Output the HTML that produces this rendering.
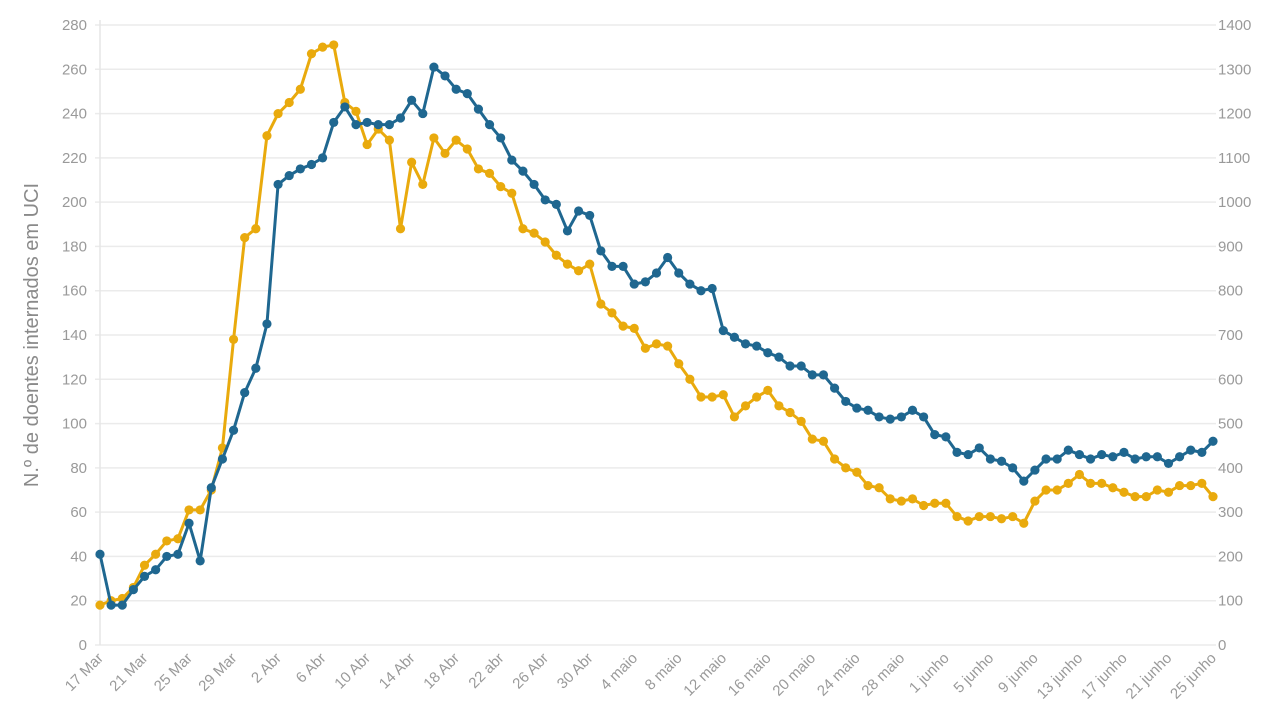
<!DOCTYPE html>
<html><head><meta charset="utf-8"><style>
body{margin:0;background:#fff;font-family:"Liberation Sans",sans-serif}
svg text{font-family:"Liberation Sans",sans-serif}
</style></head><body>
<svg id="chart" width="1280" height="720">
<g id="grid"></g><g id="axes"></g><g id="series"></g>
<text transform="translate(38,335) rotate(-90)" text-anchor="middle" font-size="20" fill="#8a8a8a">N.º de doentes internados em UCI</text>
</svg>
<script>
const startLabels=["17 Mar","21 Mar","25 Mar","29 Mar","2 Abr","6 Abr","10 Abr","14 Abr","18 Abr","22 abr","26 Abr","30 Abr","4 maio","8 maio","12 maio","16 maio","20 maio","24 maio","28 maio","1 junho","5 junho","9 junho","13 junho","17 junho","21 junho","25 junho"];
const leftTicks=[0,20,40,60,80,100,120,140,160,180,200,220,240,260,280];
const rightTicks=[0,100,200,300,400,500,600,700,800,900,1000,1100,1200,1300,1400];
const uci=[18,20,21,26,36,41,47,48,61,61,70,89,138,184,188,230,240,245,251,267,270,271,245,241,226,233,228,188,218,208,229,222,228,224,215,213,207,204,188,186,182,176,172,169,172,154,150,144,143,134,136,135,127,120,112,112,113,103,108,112,115,108,105,101,93,92,84,80,78,72,71,66,65,66,63,64,64,58,56,58,58,57,58,55,65,70,70,73,77,73,73,71,69,67,67,70,69,72,72,73,67];
const internados=[205,90,90,125,155,170,200,205,275,190,355,420,485,570,625,725,1040,1060,1075,1085,1100,1180,1215,1175,1180,1175,1175,1190,1230,1200,1305,1285,1255,1245,1210,1175,1145,1095,1070,1040,1005,995,935,980,970,890,855,855,815,820,840,875,840,815,800,805,710,695,680,675,660,650,630,630,610,610,580,550,535,530,515,510,515,530,515,475,470,435,430,445,420,415,400,370,395,420,420,440,430,420,430,425,435,420,425,425,410,425,440,435,460];
const L=100,R=1213,T=25,B=645;
const xs=i=>L+(R-L)*i/(uci.length-1);
const yl=v=>B-(B-T)*v/280;
const yr=v=>B-(B-T)*v/1400;
const NS="http://www.w3.org/2000/svg";
function mk(tag,attrs,parent){const e=document.createElementNS(NS,tag);for(const k in attrs)e.setAttribute(k,attrs[k]);parent.appendChild(e);return e;}
const grid=document.getElementById('grid'),axes=document.getElementById('axes'),ser=document.getElementById('series');
leftTicks.forEach((v,i)=>{
 const g=mk('line',{x1:L-5,x2:R+3,y1:yl(v),y2:yl(v),stroke:'#ebebeb','stroke-width':1.5},grid);
 
 
 const t=mk('text',{x:87,y:yl(v)+5,'text-anchor':'end','font-size':15,fill:'#9a9a9a'},axes);t.textContent=v;
 
 
 const t2=mk('text',{x:1218,y:yr(rightTicks[i])+5,'font-size':15,fill:'#9a9a9a'},axes);t2.textContent=rightTicks[i];
 
 
});
const ax=mk('line',{x1:L,x2:L,y1:T-5,y2:B,stroke:'#e6e6e6','stroke-width':1.5},grid);


startLabels.forEach((s,k)=>{
 const x=xs(k*4);
 const t=mk('text',{transform:`translate(${x+4},${B+14}) rotate(-45)`,'text-anchor':'end','font-size':15,fill:'#9a9a9a'},axes);t.textContent=s;
 
 
});
function draw(arr,yf,col,name){
 const p=mk('polyline',{points:arr.map((v,i)=>xs(i)+','+yf(v)).join(' '),fill:'none',stroke:col,'stroke-width':3,'stroke-linejoin':'round'},ser);
 
 
 arr.forEach((v,i)=>{
  const c=mk('circle',{cx:xs(i),cy:yf(v),r:4.6,fill:col},ser);
  
  
 });
}
draw(uci,yl,'#e9aa0d','uci');
draw(internados,yr,'#1f6790','internados');
</script>
</body></html>
